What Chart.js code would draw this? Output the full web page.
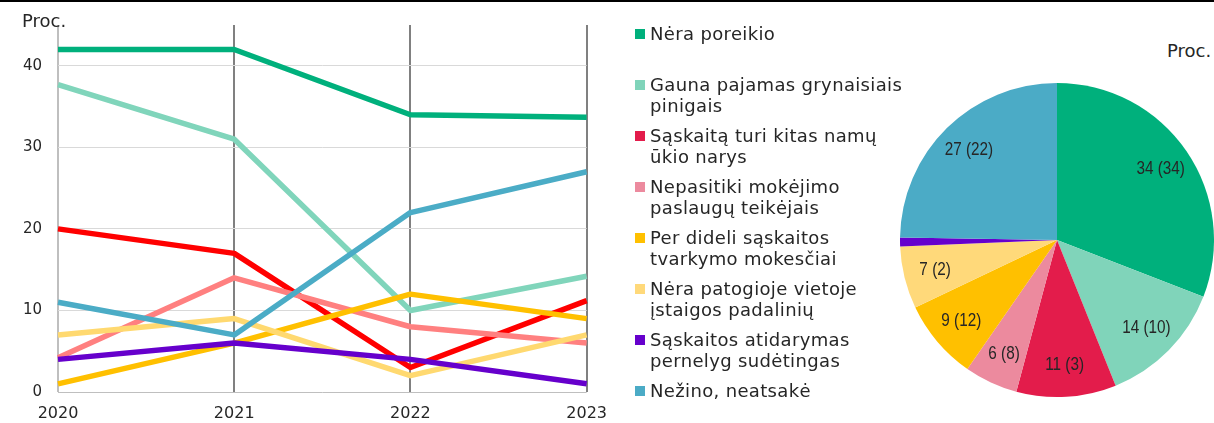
<!DOCTYPE html>
<html><head><meta charset="utf-8">
<script src="https://cdn.jsdelivr.net/npm/chart.js@4"></script>
<style>
html,body{margin:0;padding:0;background:#fff;overflow:hidden;}
body{width:1214px;height:423px;position:relative;font-family:'DejaVu Sans',sans-serif;color:#262626;}
#topline{position:absolute;left:0;top:0;width:1214px;height:2px;background:#000;}
#lineCanvas{position:absolute;left:0;top:0;}
#pieCanvas{position:absolute;left:900px;top:82px;}
.proc{position:absolute;font-size:18px;line-height:21px;white-space:nowrap;}
#legend{position:absolute;left:635px;top:23px;width:290px;}
.item{position:relative;height:51px;padding-left:15px;font-size:18px;line-height:21px;letter-spacing:0.35px;white-space:pre-line;}
.sw{position:absolute;left:0;top:6px;width:10px;height:10px;}
</style>
</head><body>
<div id="topline"></div>
<canvas id="lineCanvas" width="619" height="423"></canvas>
<canvas id="pieCanvas" width="314" height="316"></canvas>
<div class="proc" style="left:22px;top:10px;">Proc.</div>
<div class="proc" style="left:1167px;top:40px;">Proc.</div>
<div id="legend"></div>
<script>
// ---- data ----
const years = ['2020', '2021', '2022', '2023'];
const seriesNames = [
  'Nėra poreikio',
  'Gauna pajamas grynaisiais\npinigais',
  'Sąskaitą turi kitas namų\nūkio narys',
  'Nepasitiki mokėjimo\npaslaugų teikėjais',
  'Per dideli sąskaitos\ntvarkymo mokesčiai',
  'Nėra patogioje vietoje\nįstaigos padalinių',
  'Sąskaitos atidarymas\npernelyg sudėtingas',
  'Nežino, neatsakė'
];
const noNeed      = [42, 42, 34, 33.7];
const cashIncome  = [37.7, 31, 10, 14.2];
const otherMember = [20, 17, 3, 11.2];
const distrust    = [4.2, 14, 8, 6];
const highFees    = [1, 6, 12, 9];
const noBranch    = [7, 9, 2, 7];
const complicated = [4, 6, 4, 1];
const dontKnow    = [11, 7, 22, 27];
const yTickValues = [0, 10, 20, 30, 40];
const seriesValues = [noNeed, cashIncome, otherMember, distrust, highFees, noBranch, complicated, dontKnow];

// ---- styles ----
const lineColors = ['#00B07C', '#80D5BB', '#FF0000', '#FF8080', '#FFC000', '#FFD970', '#6600CC', '#4BACC6'];
const pieColors  = ['#00B07C', '#80D4BA', '#E31C4B', '#EC8A9E', '#FFC000', '#FFD97A', '#6600CC', '#4BABC6'];
const FONT = "'DejaVu Sans', sans-serif";
const PIEFONT = "'Liberation Sans', Arial, sans-serif";
const TXT = '#262626';

// legend
const leg = document.getElementById('legend');
seriesNames.forEach((name, i) => {
  const d = document.createElement('div');
  d.className = 'item';
  const s = document.createElement('span');
  s.className = 'sw';
  s.style.background = pieColors[i];
  d.appendChild(s);
  d.appendChild(document.createTextNode(name));
  leg.appendChild(d);
});

const n = seriesValues.length;
new Chart(document.getElementById('lineCanvas'), {
  type: 'line',
  data: {
    labels: years,
    datasets: seriesValues.map((vals, i) => ({
      label: seriesNames[i].replace('\n', ' '),
      data: vals,
      borderColor: lineColors[i],
      backgroundColor: lineColors[i],
      borderWidth: 5.5,
      pointRadius: 0,
      tension: 0,
      fill: false,
      borderJoinStyle: 'round',
      order: n - i
    }))
  },
  options: {
    responsive: false,
    animation: false,
    devicePixelRatio: 1,
    layout: { padding: { top: 22, right: 10, left: 0, bottom: 0 } },
    plugins: { legend: { display: false }, tooltip: { enabled: false } },
    scales: {
      x: {
        offset: false,
        grid: {
          color: c => c.index === 0 ? '#bfbfbf' : '#808080',
          lineWidth: 2,
          drawTicks: false
        },
        border: { display: false },
        ticks: { font: { size: 16, family: FONT }, color: TXT, padding: 12, maxRotation: 0, autoSkip: false },
        afterFit: s => { s.height = 31; }
      },
      y: {
        min: 0, max: 45,
        afterBuildTicks: s => { s.ticks = yTickValues.map(v => ({ value: v })); },
        grid: {
          color: c => (c.tick && c.tick.value === 0) ? '#bfbfbf' : '#d9d9d9',
          lineWidth: 1,
          drawTicks: false
        },
        border: { display: false },
        ticks: { font: { size: 15, family: FONT }, color: TXT, padding: 16 },
        afterFit: s => { s.width = 58; }
      }
    }
  }
});

// pie labels plugin
const pieLabels = {
  id: 'pieLabels',
  afterDatasetsDraw(chart) {
    const ctx = chart.ctx;
    const meta = chart.getDatasetMeta(0);
    const sx = 0.85;
    const put = (t, x, y) => {
      ctx.save();
      ctx.translate(x, y);
      ctx.scale(sx, 1);
      ctx.fillText(t, 0, 0);
      ctx.restore();
    };
    ctx.save();
    ctx.font = '18px ' + PIEFONT;
    ctx.fillStyle = TXT;
    ctx.textAlign = 'center';
    ctx.textBaseline = 'middle';
    meta.data.forEach((arc, i) => {
      const p = arc.getProps(['x', 'y', 'startAngle', 'endAngle', 'outerRadius'], true);
      const mid = (p.startAngle + p.endAngle) / 2;
      const cur = Math.round(seriesValues[i][3]);
      const prev = Math.round(seriesValues[i][2]);
      if (cur >= 3) {
        const r = p.outerRadius * 0.8;
        put(cur + ' (' + prev + ')', p.x + Math.cos(mid) * r, p.y + Math.sin(mid) * r);
      } else {
        const r = p.outerRadius + 15;
        const ax = p.x + Math.cos(mid) * r, ay = p.y + Math.sin(mid) * r;
        put(String(cur), ax, ay - 3);
        put('(' + prev + ')', ax, ay + 19);
      }
    });
    ctx.restore();
  }
};

new Chart(document.getElementById('pieCanvas'), {
  type: 'pie',
  data: {
    labels: seriesNames.map(s => s.replace('\n', ' ')),
    datasets: [{
      data: seriesValues.map(v => v[3]),
      backgroundColor: pieColors,
      borderWidth: 0
    }]
  },
  options: {
    responsive: false,
    animation: false,
    devicePixelRatio: 1,
    layout: { padding: 0 },
    plugins: { legend: { display: false }, tooltip: { enabled: false } }
  },
  plugins: [pieLabels]
});
</script>
</body></html>
